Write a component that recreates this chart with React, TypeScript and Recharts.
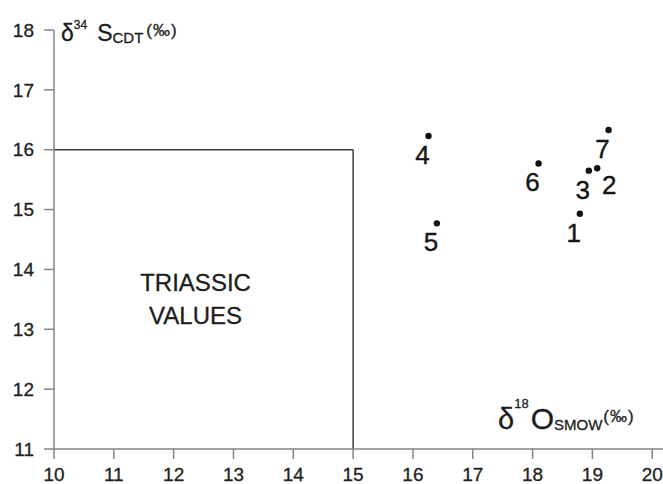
import React from 'react';
import {
  ScatterChart,
  Scatter,
  XAxis,
  YAxis,
  ReferenceLine,
  ReferenceArea,
  Customized,
} from 'recharts';

// ---- data ----
const sampleLabels = ['1', '2', '3', '4', '5', '6', '7'];
const d18O = [18.79, 19.08, 18.94, 16.26, 16.4, 18.1, 19.27];
const d34S = [14.93, 15.69, 15.65, 16.23, 14.77, 15.77, 16.33];
const xTicks = [10, 11, 12, 13, 14, 15, 16, 17, 18, 19, 20];
const yTicks = [11, 12, 13, 14, 15, 16, 17, 18];
const triassicBox = { xMin: 10, xMax: 15, yMin: 11, yMax: 16 };
const boxText = ['TRIASSIC', 'VALUES'];

// ---- style (label placement relative to each dot) ----
const defaultLabelOffset: [number, number] = [-6, 19];
const labelOffsets: Record<string, [number, number]> = { '2': [12, 17] };

const FONT = '"Liberation Sans", Arial, Helvetica, sans-serif';
const AXIS = '#858585';
const BOX = '#3c3c3c';
const INK = '#1c1c1c';

const data = sampleLabels.map((label, i) => ({ label, x: d18O[i], y: d34S[i] }));

const DotShape = (props: any) => {
  const { cx, cy, payload } = props;
  const off = labelOffsets[payload.label] || defaultLabelOffset;
  return (
    <g>
      <circle cx={cx} cy={cy} r={3.2} fill="#111" />
      <text
        x={cx + off[0]}
        y={cy + off[1]}
        textAnchor="middle"
        dominantBaseline="central"
        fontSize={26}
        fontFamily={FONT}
        fill="#151515"
        stroke="#151515"
        strokeWidth={0.4}
      >
        {payload.label}
      </text>
    </g>
  );
};

const BoxLabel = (props: any) => {
  const vb = props.viewBox || {};
  const cx = vb.x + vb.width / 2 - 8;
  const cy = vb.y + vb.height / 2;
  const common = {
    textAnchor: 'middle' as const,
    dominantBaseline: 'central' as const,
    fontSize: 24,
    fontFamily: FONT,
    fill: INK,
    stroke: INK,
    strokeWidth: 0.3,
  };
  return (
    <g>
      <text x={cx} y={cy - 17} {...common}>
        {boxText[0]}
      </text>
      <text x={cx} y={cy + 16} {...common}>
        {boxText[1]}
      </text>
    </g>
  );
};

const Titles = () => (
  <g fontFamily={FONT} fill={INK} stroke={INK} strokeWidth={0.3}>
    <text x={61} y={41} fontSize={23}>
      δ
      <tspan fontSize={12} dy={-12}>34</tspan>
      <tspan fontSize={23} dy={12} dx={10}>S</tspan>
      <tspan fontSize={15} dy={2}>CDT</tspan>
      <tspan fontSize={17} dy={-7} dx={3} letterSpacing={1}>(‰)</tspan>
    </text>
    <text x={498} y={429} fontSize={29}>
      δ
      <tspan fontSize={13} dy={-21}>18</tspan>
      <tspan fontSize={30} dy={21} dx={2}>O</tspan>
      <tspan fontSize={15} dy={1}>SMOW</tspan>
      <tspan fontSize={17} dy={-8} dx={1} letterSpacing={1}>(‰)</tspan>
    </text>
  </g>
);

const tickStyle = { fill: '#222', fontSize: 19, fontFamily: FONT, stroke: '#222', strokeWidth: 0.3 };

export default function App() {
  return (
    <div style={{ position: 'absolute', left: 0, top: 0, width: 663, height: 484, background: '#fff' }}>
      <ScatterChart width={663} height={484} margin={{ top: 30, right: 0, bottom: 0, left: 0 }}>
        <XAxis
          type="number"
          dataKey="x"
          domain={[10, 20.18]}
          ticks={xTicks}
          allowDataOverflow
          height={35}
          tickSize={10}
          tickMargin={9}
          axisLine={{ stroke: AXIS, strokeWidth: 1.5 }}
          tickLine={{ stroke: AXIS, strokeWidth: 1.5 }}
          tick={tickStyle}
          interval={0}
        />
        <YAxis
          type="number"
          dataKey="y"
          domain={[11, 18]}
          ticks={yTicks}
          allowDataOverflow
          width={54}
          tickSize={10}
          tickMargin={10}
          axisLine={{ stroke: AXIS, strokeWidth: 1.5 }}
          tickLine={{ stroke: AXIS, strokeWidth: 1.5 }}
          tick={tickStyle}
          interval={0}
        />
        <ReferenceArea
          x1={triassicBox.xMin}
          x2={triassicBox.xMax}
          y1={triassicBox.yMin}
          y2={triassicBox.yMax}
          fill="none"
          fillOpacity={0}
          stroke="none"
          label={<BoxLabel />}
        />
        <ReferenceLine
          segment={[
            { x: triassicBox.xMin, y: triassicBox.yMax },
            { x: triassicBox.xMax, y: triassicBox.yMax },
          ]}
          stroke={BOX}
          strokeWidth={1.5}
        />
        <ReferenceLine
          segment={[
            { x: triassicBox.xMax, y: triassicBox.yMax },
            { x: triassicBox.xMax, y: triassicBox.yMin },
          ]}
          stroke={BOX}
          strokeWidth={1.5}
        />
        <Scatter data={data} shape={<DotShape />} isAnimationActive={false} />
        <Customized component={Titles} />
      </ScatterChart>
    </div>
  );
}
